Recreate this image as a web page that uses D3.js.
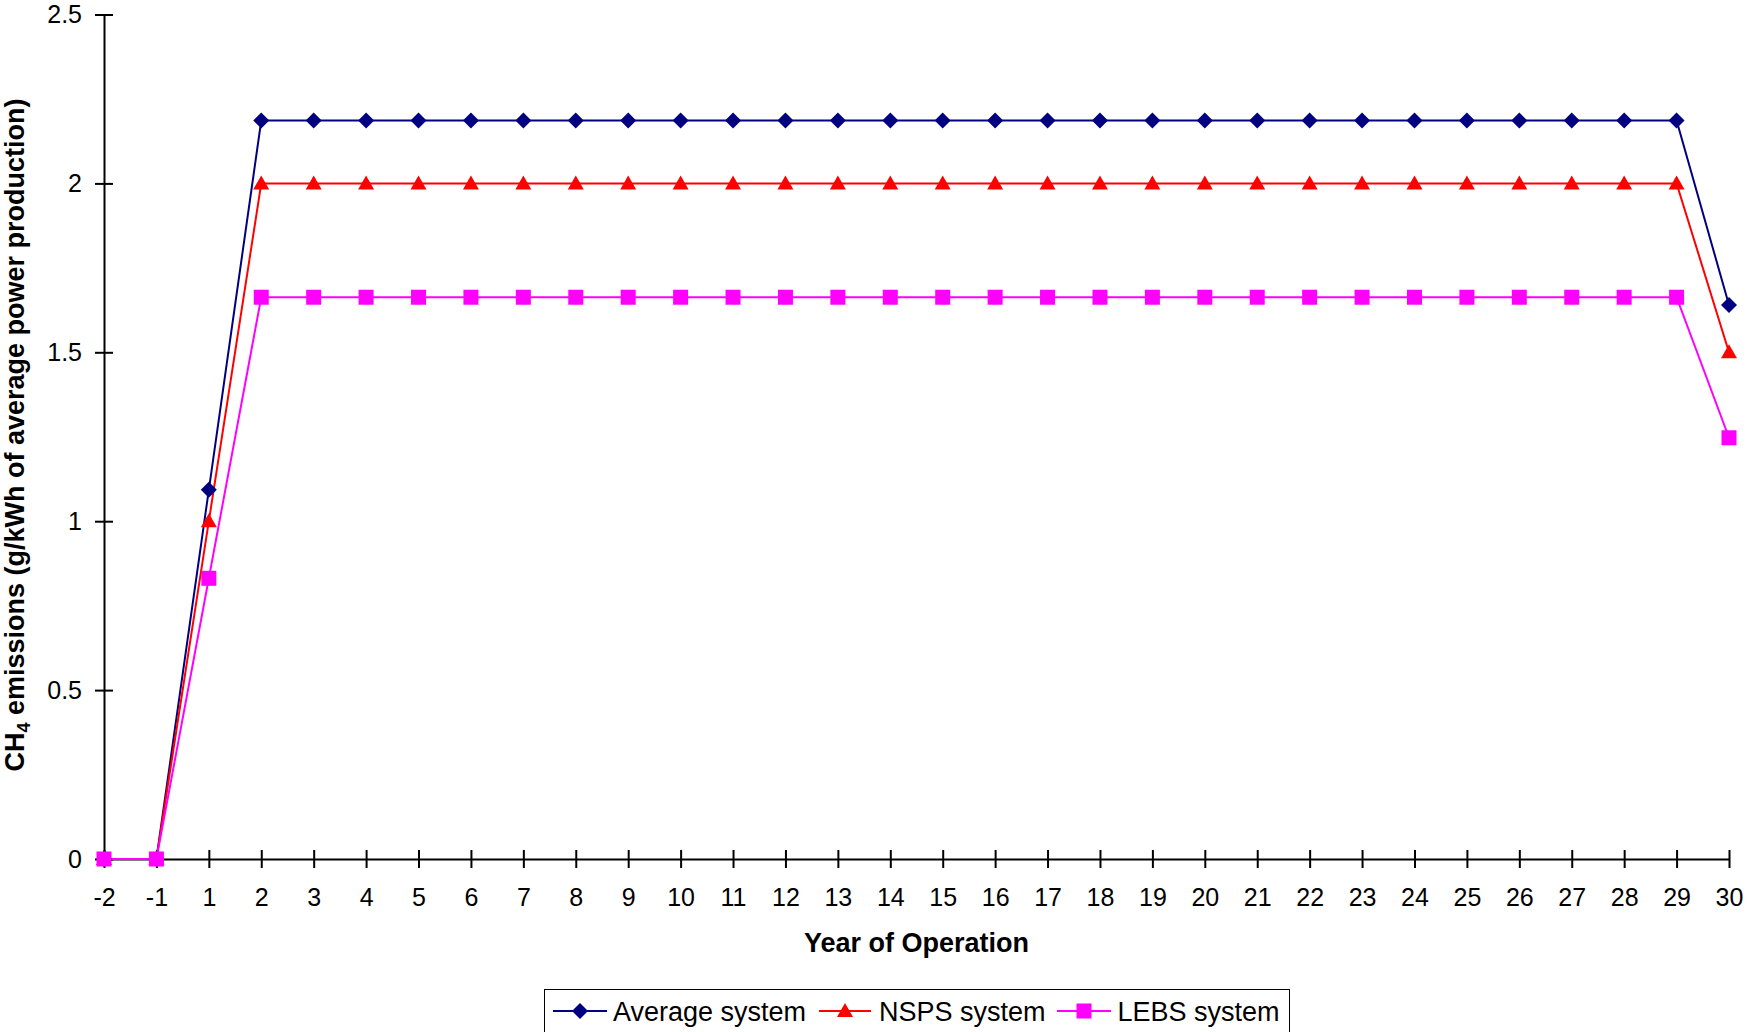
<!DOCTYPE html>
<html><head><meta charset="utf-8">
<script src="https://cdn.jsdelivr.net/npm/d3@7"></script>
<style>
html,body{margin:0;padding:0;background:#fff;}
text{font-family:Arial,"Liberation Sans",sans-serif;}
</style></head>
<body><svg id="c" width="1747" height="1032"></svg>
<script>
const years = ["-2","-1","1","2","3","4","5","6","7","8","9","10","11","12","13","14","15","16","17","18","19","20","21","22","23","24","25","26","27","28","29","30"];
const averageSystem = [0,0,1.093,2.186,2.186,2.186,2.186,2.186,2.186,2.186,2.186,2.186,2.186,2.186,2.186,2.186,2.186,2.186,2.186,2.186,2.186,2.186,2.186,2.186,2.186,2.186,2.186,2.186,2.186,2.186,2.186,1.640];
const nspsSystem = [0,0,1.0,2.0,2.0,2.0,2.0,2.0,2.0,2.0,2.0,2.0,2.0,2.0,2.0,2.0,2.0,2.0,2.0,2.0,2.0,2.0,2.0,2.0,2.0,2.0,2.0,2.0,2.0,2.0,2.0,1.5];
const lebsSystem = [0,0,0.831,1.663,1.663,1.663,1.663,1.663,1.663,1.663,1.663,1.663,1.663,1.663,1.663,1.663,1.663,1.663,1.663,1.663,1.663,1.663,1.663,1.663,1.663,1.663,1.663,1.663,1.663,1.663,1.663,1.247];
const yTicks = [0,0.5,1,1.5,2,2.5];
const seriesNames = ["Average system","NSPS system","LEBS system"];

const svg = d3.select("#c");
const x = d3.scalePoint().domain(years).range([104,1729]);
const y = d3.scaleLinear().domain([0,2.5]).range([859,14.5]);
const FS = 25, TS = 27;

// Y axis
const yAxis = svg.append("g").attr("transform","translate(104,0)")
  .call(d3.axisLeft(y).tickValues(yTicks).tickFormat(d3.format("")).tickSizeInner(9).tickSizeOuter(0).tickPadding(13));
yAxis.select(".domain").attr("stroke","#000").attr("stroke-width",2);
yAxis.selectAll(".tick line").attr("stroke","#000").attr("stroke-width",2).attr("x1",9).attr("x2",-9);
yAxis.selectAll(".tick text").attr("font-size",FS).attr("fill","#000").style("font-family","Arial, 'Liberation Sans', sans-serif");

// X axis
const xAxis = svg.append("g").attr("transform","translate(0,859)")
  .call(d3.axisBottom(x).tickSizeInner(9).tickSizeOuter(0).tickPadding(20));
xAxis.select(".domain").attr("stroke","#000").attr("stroke-width",2);
xAxis.selectAll(".tick line").attr("stroke","#000").attr("stroke-width",2).attr("y1",-9).attr("y2",9);
xAxis.selectAll(".tick text").attr("font-size",FS).attr("fill","#000").style("font-family","Arial, 'Liberation Sans', sans-serif");

// Axis titles
svg.append("text").attr("x",916.5).attr("y",952).attr("text-anchor","middle")
  .attr("font-size",TS).attr("font-weight","bold").text("Year of Operation");
const yt = svg.append("text").attr("transform","translate(24,435) rotate(-90)").attr("text-anchor","middle")
  .attr("font-size",TS).attr("font-weight","bold");
yt.append("tspan").text("CH");
yt.append("tspan").attr("font-size",18).attr("dy",6).text("4");
yt.append("tspan").attr("dy",-6).text(" emissions (g/kWh of average power production)");

const sym = {
  diamond: (g,cx,cy,c)=>g.append("path").attr("d",`M${cx},${cy-8}L${cx+8},${cy}L${cx},${cy+8}L${cx-8},${cy}Z`).attr("fill",c),
  triangle: (g,cx,cy,c)=>g.append("path").attr("d",`M${cx},${cy-8}L${cx+8},${cy+6}L${cx-8},${cy+6}Z`).attr("fill",c),
  square: (g,cx,cy,c)=>g.append("rect").attr("x",cx-7.5).attr("y",cy-7.5).attr("width",15).attr("height",15).attr("fill",c)
};
const series = [
  {name:seriesNames[0], vals:averageSystem, color:"#000080", m:"diamond"},
  {name:seriesNames[1], vals:nspsSystem, color:"#FF0000", m:"triangle"},
  {name:seriesNames[2], vals:lebsSystem, color:"#FF00FF", m:"square"}
];
const line = d3.line().x((d,i)=>x(years[i])).y(d=>y(d));
series.forEach(s=>{
  svg.append("path").datum(s.vals).attr("d",line).attr("fill","none").attr("stroke",s.color).attr("stroke-width",2);
});
series.forEach(s=>{
  const g = svg.append("g");
  s.vals.forEach((v,i)=>sym[s.m](g,x(years[i]),y(v),s.color));
});

// Legend
const lg = svg.append("g");
lg.append("rect").attr("x",544.5).attr("y",989.5).attr("width",745).attr("height",50).attr("fill","#fff").attr("stroke","#000").attr("stroke-width",1);
const items = [{x0:553,x1:607,tx:613},{x0:819,x1:871,tx:879},{x0:1057,x1:1111,tx:1117.5}];
series.forEach((s,i)=>{
  const it = items[i], cy = 1011;
  lg.append("line").attr("x1",it.x0).attr("x2",it.x1).attr("y1",cy).attr("y2",cy).attr("stroke",s.color).attr("stroke-width",2);
  sym[s.m](lg,(it.x0+it.x1)/2,cy,s.color);
  lg.append("text").attr("x",it.tx).attr("y",cy+10).attr("font-size",TS).text(s.name);
});
</script></body></html>
